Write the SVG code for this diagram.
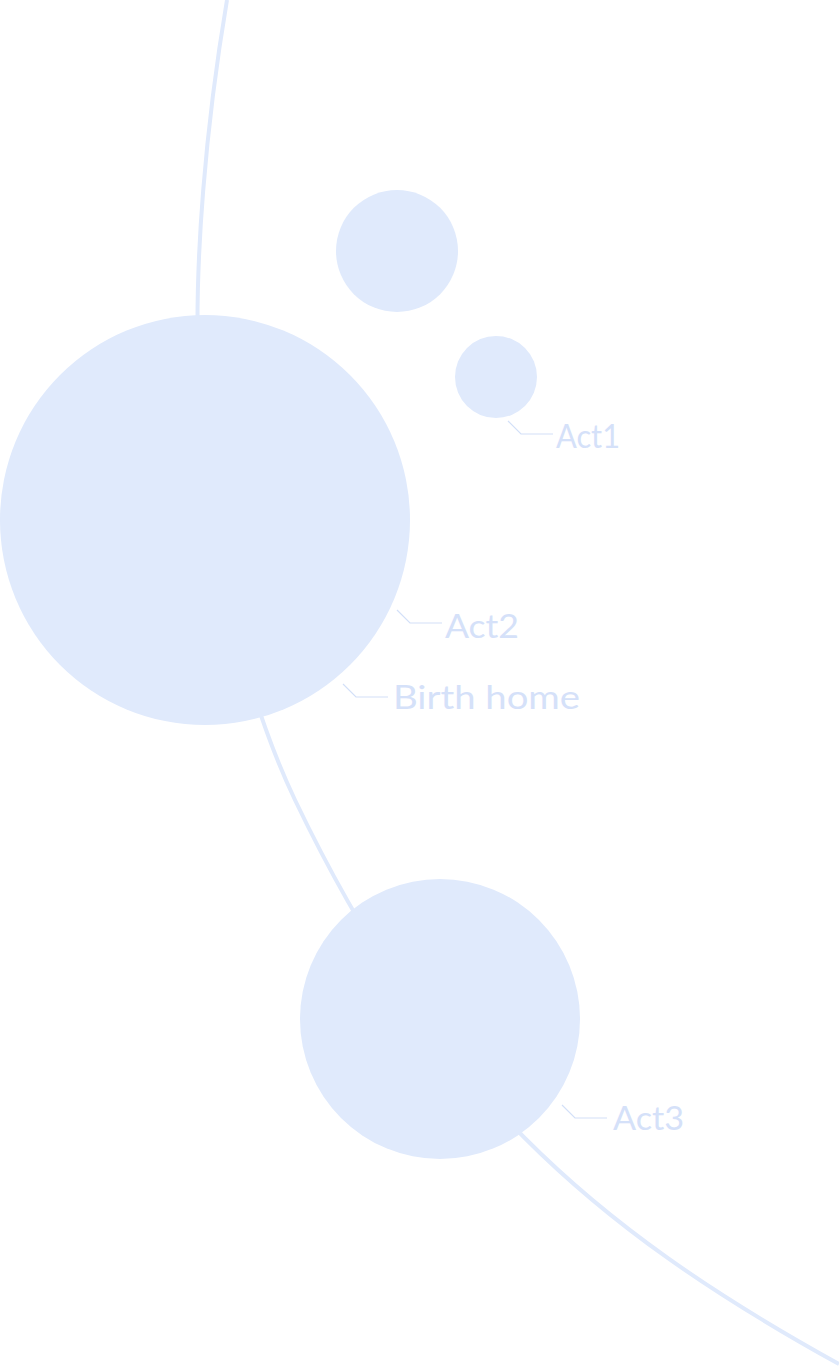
<svg xmlns="http://www.w3.org/2000/svg" width="839" height="1368" viewBox="0 0 839 1368">
<style>
.node{fill:#e0eafc}
.path{fill:none;stroke:#e0eafc;stroke-width:4}
.lead{fill:none;stroke:#d3e0f8;stroke-width:1.2}
.lbl{font-family:Lato,"Open Sans",sans-serif;font-weight:400;font-size:32px;fill:#d5e1f9}
</style>
<rect width="839" height="1368" fill="#ffffff"/>
<g id="connectors">
<path class="path" d="M227,0 C205,130 195,260 198,360 C200,500 238,680 295,800 C433,1088 589,1226 839,1364"/>
</g>
<g id="node-birth-home">
<circle class="node" cx="205" cy="520" r="205"/>
<path class="lead" d="M343,684 L356,697 L388,697"/>
<text class="lbl" x="393" y="709" textLength="187" lengthAdjust="spacingAndGlyphs">Birth home</text>
</g>
<g id="node-top">
<circle class="node" cx="397" cy="251" r="61"/>
</g>
<g id="node-act1">
<circle class="node" cx="496" cy="377" r="41"/>
<path class="lead" d="M508,421 L521,434 L553,434"/>
<text class="lbl" x="556" y="448" textLength="64" lengthAdjust="spacingAndGlyphs">Act1</text>
</g>
<g id="node-act2">
<path class="lead" d="M397,610 L410,623 L442,623"/>
<text class="lbl" x="445" y="638" textLength="74" lengthAdjust="spacingAndGlyphs">Act2</text>
</g>
<g id="node-act3">
<circle class="node" cx="440" cy="1019" r="140"/>
<path class="lead" d="M562,1105 L575,1118 L607,1118"/>
<text class="lbl" x="613" y="1130" textLength="71" lengthAdjust="spacingAndGlyphs">Act3</text>
</g>
</svg>
